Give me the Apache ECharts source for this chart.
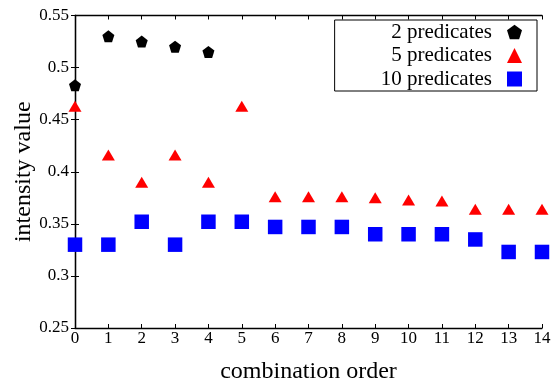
<!DOCTYPE html>
<html>
<head>
<meta charset="utf-8">
<script src="https://cdn.jsdelivr.net/npm/echarts@6/dist/echarts.min.js"></script>
<style>
html,body{margin:0;padding:0;background:#fff;}
#chart{width:554px;height:388px;}
</style>
</head>
<body>
<div id="chart"></div>
<script>
const xOrder2 = [0, 1, 2, 3, 4];
const pred2 = [0.483, 0.530, 0.525, 0.520, 0.515];
const xOrder = [0, 1, 2, 3, 4, 5, 6, 7, 8, 9, 10, 11, 12, 13, 14];
const pred5 = [0.463, 0.416, 0.390, 0.416, 0.390, 0.463, 0.376, 0.376, 0.376, 0.375, 0.373, 0.372, 0.364, 0.364, 0.364];
const pred10 = [0.330, 0.330, 0.352, 0.330, 0.352, 0.352, 0.347, 0.347, 0.347, 0.340, 0.340, 0.340, 0.335, 0.323, 0.323];
const seriesNames = ['2 predicates', '5 predicates', '10 predicates'];
const xTitle = 'combination order';
const yTitle = 'intensity value';

const FONT = '"Liberation Serif", "DejaVu Serif", serif';
const pentagon = 'path://M0,-1 L0.951,-0.309 L0.588,0.809 L-0.588,0.809 L-0.951,-0.309 Z';

const chart = echarts.init(document.getElementById('chart'), null, {renderer: 'canvas'});
const axisLine = {show: true, lineStyle: {color: '#000', width: 1.3}};
const tickIn = {show: true, inside: true, length: 4, lineStyle: {color: '#000', width: 1}};

const option = {
  backgroundColor: '#fff',
  animation: false,
  grid: {left: 75, right: 12, top: 15.5, bottom: 60, containLabel: false, outerBoundsMode: 'none'},
  legend: {
    right: 17, top: 20,
    orient: 'vertical',
    align: 'right',
    itemWidth: 15, itemHeight: 15,
    itemGap: 2.5,
    padding: [1.5, 15, 1.5, 46],
    borderColor: '#000', borderWidth: 1, borderRadius: 0,
    backgroundColor: '#fff',
    textStyle: {fontFamily: FONT, fontSize: 21, color: '#000', padding: [0, 10, 0, 0]},
    data: seriesNames
  },
  xAxis: [{
    type: 'value', min: 0, max: 14, interval: 1,
    name: xTitle, nameLocation: 'middle', nameGap: 32, nameMoveOverlap: false,
    nameTextStyle: {fontFamily: FONT, fontSize: 24, color: '#000'},
    axisLine: axisLine, axisTick: tickIn, splitLine: {show: false},
    axisLabel: {fontFamily: FONT, fontSize: 17, color: '#000', margin: 2}
  }, {
    type: 'value', min: 0, max: 14, interval: 1, position: 'top',
    axisLine: axisLine, axisTick: tickIn, splitLine: {show: false}, axisLabel: {show: false}
  }],
  yAxis: [{
    type: 'value', min: 0.25, max: 0.55, interval: 0.05,
    name: yTitle, nameLocation: 'middle', nameGap: 39, nameRotate: 90, nameMoveOverlap: false,
    nameTextStyle: {fontFamily: FONT, fontSize: 24, color: '#000'},
    axisLine: axisLine, axisTick: tickIn, splitLine: {show: false},
    axisLabel: {fontFamily: FONT, fontSize: 17, color: '#000', margin: 6,
      formatter: v => String(parseFloat(v.toFixed(2)))}
  }, {
    type: 'value', min: 0.25, max: 0.55, interval: 0.05, position: 'right',
    axisLine: axisLine, axisTick: tickIn, splitLine: {show: false}, axisLabel: {show: false}
  }],
  series: [
    {name: seriesNames[0], type: 'scatter', symbol: pentagon, symbolSize: 12,
     itemStyle: {color: '#000', opacity: 1}, z: 3,
     data: xOrder2.map((x, i) => [x, pred2[i]])},
    {name: seriesNames[1], type: 'scatter', symbol: 'triangle', symbolSize: [13, 11],
     itemStyle: {color: '#ff0000', opacity: 1}, z: 2,
     data: xOrder.map((x, i) => [x, pred5[i]])},
    {name: seriesNames[2], type: 'scatter', symbol: 'rect', symbolSize: 14.5,
     itemStyle: {color: '#0000ff', opacity: 1}, z: 1,
     data: xOrder.map((x, i) => [x, pred10[i]])}
  ]
};
chart.setOption(option);
</script>
</body>
</html>
